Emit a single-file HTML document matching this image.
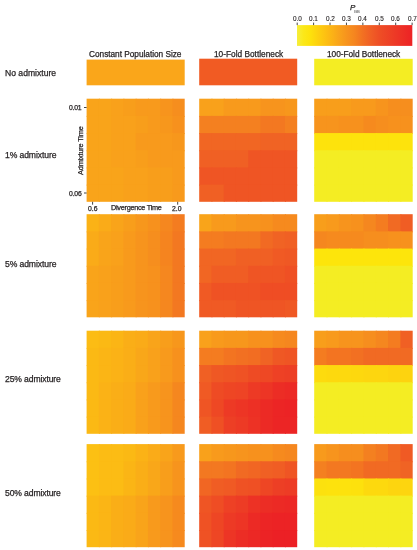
<!DOCTYPE html>
<html><head><meta charset="utf-8"><style>
html,body{margin:0;padding:0;background:#fff;}
body{width:417px;height:550px;position:relative;overflow:hidden;font-family:"Liberation Sans",sans-serif;color:#231f20;}
.t{position:absolute;white-space:nowrap;line-height:1;-webkit-text-stroke:0.25px #231f20;will-change:transform;}
svg{position:absolute;left:0;top:0;}
.rot{position:absolute;white-space:nowrap;line-height:1;-webkit-text-stroke:0.25px #231f20;will-change:transform;transform-origin:0 0;transform:rotate(-90deg);}
</style></head><body>
<svg width="417" height="550" viewBox="0 0 417 550"><defs><linearGradient id="cb" x1="0" x2="1" y1="0" y2="0"><stop offset="0.0000" stop-color="#f6ee3c"/><stop offset="0.0571" stop-color="#fbe819"/><stop offset="0.1143" stop-color="#fde20c"/><stop offset="0.1714" stop-color="#fdd30e"/><stop offset="0.2286" stop-color="#fdc511"/><stop offset="0.2857" stop-color="#fcb714"/><stop offset="0.3571" stop-color="#f9a51a"/><stop offset="0.4286" stop-color="#f7941d"/><stop offset="0.5000" stop-color="#f5851f"/><stop offset="0.5714" stop-color="#f27022"/><stop offset="0.6429" stop-color="#f05e25"/><stop offset="0.7143" stop-color="#ee4e25"/><stop offset="0.8571" stop-color="#ed3826"/><stop offset="1.0000" stop-color="#ed2225"/></linearGradient></defs><rect x="86.6" y="59.6" width="98.1" height="25.70" fill="#faa61a"/><rect x="86.60" y="98.70" width="13.26" height="18.18" fill="#f9a41a"/><rect x="98.86" y="98.70" width="13.26" height="18.18" fill="#f9a41a"/><rect x="111.12" y="98.70" width="13.26" height="18.18" fill="#f9a11b"/><rect x="123.39" y="98.70" width="13.26" height="18.18" fill="#f89e1b"/><rect x="135.65" y="98.70" width="13.26" height="18.18" fill="#f89a1c"/><rect x="147.91" y="98.70" width="13.26" height="18.18" fill="#f89a1c"/><rect x="160.17" y="98.70" width="13.26" height="18.18" fill="#f7941d"/><rect x="172.44" y="98.70" width="12.26" height="18.18" fill="#f68e1e"/><rect x="86.60" y="115.88" width="13.26" height="18.18" fill="#f9a41a"/><rect x="98.86" y="115.88" width="13.26" height="18.18" fill="#f9a41a"/><rect x="111.12" y="115.88" width="13.26" height="18.18" fill="#f9a11b"/><rect x="123.39" y="115.88" width="13.26" height="18.18" fill="#f9a11b"/><rect x="135.65" y="115.88" width="13.26" height="18.18" fill="#f89e1b"/><rect x="147.91" y="115.88" width="13.26" height="18.18" fill="#f89a1c"/><rect x="160.17" y="115.88" width="13.26" height="18.18" fill="#f7971c"/><rect x="172.44" y="115.88" width="12.26" height="18.18" fill="#f7911d"/><rect x="86.60" y="133.07" width="13.26" height="18.18" fill="#f9a41a"/><rect x="98.86" y="133.07" width="13.26" height="18.18" fill="#f9a41a"/><rect x="111.12" y="133.07" width="13.26" height="18.18" fill="#f9a11b"/><rect x="123.39" y="133.07" width="13.26" height="18.18" fill="#f9a11b"/><rect x="135.65" y="133.07" width="13.26" height="18.18" fill="#f89a1c"/><rect x="147.91" y="133.07" width="13.26" height="18.18" fill="#f89a1c"/><rect x="160.17" y="133.07" width="13.26" height="18.18" fill="#f89a1c"/><rect x="172.44" y="133.07" width="12.26" height="18.18" fill="#f7971c"/><rect x="86.60" y="150.25" width="13.26" height="18.18" fill="#f9a41a"/><rect x="98.86" y="150.25" width="13.26" height="18.18" fill="#f9a41a"/><rect x="111.12" y="150.25" width="13.26" height="18.18" fill="#f9a11b"/><rect x="123.39" y="150.25" width="13.26" height="18.18" fill="#f9a11b"/><rect x="135.65" y="150.25" width="13.26" height="18.18" fill="#f89e1b"/><rect x="147.91" y="150.25" width="13.26" height="18.18" fill="#f89a1c"/><rect x="160.17" y="150.25" width="13.26" height="18.18" fill="#f89a1c"/><rect x="172.44" y="150.25" width="12.26" height="18.18" fill="#f89a1c"/><rect x="86.60" y="167.43" width="13.26" height="18.18" fill="#f9a41a"/><rect x="98.86" y="167.43" width="13.26" height="18.18" fill="#f9a41a"/><rect x="111.12" y="167.43" width="13.26" height="18.18" fill="#f9a41a"/><rect x="123.39" y="167.43" width="13.26" height="18.18" fill="#f9a11b"/><rect x="135.65" y="167.43" width="13.26" height="18.18" fill="#f9a11b"/><rect x="147.91" y="167.43" width="13.26" height="18.18" fill="#f89e1b"/><rect x="160.17" y="167.43" width="13.26" height="18.18" fill="#f89e1b"/><rect x="172.44" y="167.43" width="12.26" height="18.18" fill="#f89a1c"/><rect x="86.60" y="184.62" width="13.26" height="17.18" fill="#f9a41a"/><rect x="98.86" y="184.62" width="13.26" height="17.18" fill="#f9a41a"/><rect x="111.12" y="184.62" width="13.26" height="17.18" fill="#f9a41a"/><rect x="123.39" y="184.62" width="13.26" height="17.18" fill="#f9a11b"/><rect x="135.65" y="184.62" width="13.26" height="17.18" fill="#f9a11b"/><rect x="147.91" y="184.62" width="13.26" height="17.18" fill="#f89e1b"/><rect x="160.17" y="184.62" width="13.26" height="17.18" fill="#f89e1b"/><rect x="172.44" y="184.62" width="12.26" height="17.18" fill="#f89a1c"/><rect x="86.60" y="214.20" width="13.26" height="18.18" fill="#fbb216"/><rect x="98.86" y="214.20" width="13.26" height="18.18" fill="#faab18"/><rect x="111.12" y="214.20" width="13.26" height="18.18" fill="#f9a41a"/><rect x="123.39" y="214.20" width="13.26" height="18.18" fill="#f89e1b"/><rect x="135.65" y="214.20" width="13.26" height="18.18" fill="#f7971c"/><rect x="147.91" y="214.20" width="13.26" height="18.18" fill="#f7911d"/><rect x="160.17" y="214.20" width="13.26" height="18.18" fill="#f5871f"/><rect x="172.44" y="214.20" width="12.26" height="18.18" fill="#f47c20"/><rect x="86.60" y="231.38" width="13.26" height="18.18" fill="#faab18"/><rect x="98.86" y="231.38" width="13.26" height="18.18" fill="#f9a41a"/><rect x="111.12" y="231.38" width="13.26" height="18.18" fill="#f9a11b"/><rect x="123.39" y="231.38" width="13.26" height="18.18" fill="#f89a1c"/><rect x="135.65" y="231.38" width="13.26" height="18.18" fill="#f7941d"/><rect x="147.91" y="231.38" width="13.26" height="18.18" fill="#f68e1e"/><rect x="160.17" y="231.38" width="13.26" height="18.18" fill="#f5841f"/><rect x="172.44" y="231.38" width="12.26" height="18.18" fill="#f37821"/><rect x="86.60" y="248.57" width="13.26" height="18.18" fill="#faab18"/><rect x="98.86" y="248.57" width="13.26" height="18.18" fill="#f9a41a"/><rect x="111.12" y="248.57" width="13.26" height="18.18" fill="#f9a11b"/><rect x="123.39" y="248.57" width="13.26" height="18.18" fill="#f89a1c"/><rect x="135.65" y="248.57" width="13.26" height="18.18" fill="#f7941d"/><rect x="147.91" y="248.57" width="13.26" height="18.18" fill="#f68e1e"/><rect x="160.17" y="248.57" width="13.26" height="18.18" fill="#f5841f"/><rect x="172.44" y="248.57" width="12.26" height="18.18" fill="#f37821"/><rect x="86.60" y="265.75" width="13.26" height="18.18" fill="#f9a41a"/><rect x="98.86" y="265.75" width="13.26" height="18.18" fill="#f9a11b"/><rect x="111.12" y="265.75" width="13.26" height="18.18" fill="#f89e1b"/><rect x="123.39" y="265.75" width="13.26" height="18.18" fill="#f89a1c"/><rect x="135.65" y="265.75" width="13.26" height="18.18" fill="#f7941d"/><rect x="147.91" y="265.75" width="13.26" height="18.18" fill="#f7911d"/><rect x="160.17" y="265.75" width="13.26" height="18.18" fill="#f5871f"/><rect x="172.44" y="265.75" width="12.26" height="18.18" fill="#f37821"/><rect x="86.60" y="282.93" width="13.26" height="18.18" fill="#f9a41a"/><rect x="98.86" y="282.93" width="13.26" height="18.18" fill="#f9a11b"/><rect x="111.12" y="282.93" width="13.26" height="18.18" fill="#f89e1b"/><rect x="123.39" y="282.93" width="13.26" height="18.18" fill="#f89a1c"/><rect x="135.65" y="282.93" width="13.26" height="18.18" fill="#f7941d"/><rect x="147.91" y="282.93" width="13.26" height="18.18" fill="#f7911d"/><rect x="160.17" y="282.93" width="13.26" height="18.18" fill="#f5871f"/><rect x="172.44" y="282.93" width="12.26" height="18.18" fill="#f37821"/><rect x="86.60" y="300.12" width="13.26" height="17.18" fill="#f9a41a"/><rect x="98.86" y="300.12" width="13.26" height="17.18" fill="#f9a11b"/><rect x="111.12" y="300.12" width="13.26" height="17.18" fill="#f89e1b"/><rect x="123.39" y="300.12" width="13.26" height="17.18" fill="#f89a1c"/><rect x="135.65" y="300.12" width="13.26" height="17.18" fill="#f7941d"/><rect x="147.91" y="300.12" width="13.26" height="17.18" fill="#f7911d"/><rect x="160.17" y="300.12" width="13.26" height="17.18" fill="#f5871f"/><rect x="172.44" y="300.12" width="12.26" height="17.18" fill="#f37821"/><rect x="86.60" y="330.70" width="13.26" height="18.18" fill="#fcbc14"/><rect x="98.86" y="330.70" width="13.26" height="18.18" fill="#fbb914"/><rect x="111.12" y="330.70" width="13.26" height="18.18" fill="#fbb515"/><rect x="123.39" y="330.70" width="13.26" height="18.18" fill="#faae17"/><rect x="135.65" y="330.70" width="13.26" height="18.18" fill="#faab18"/><rect x="147.91" y="330.70" width="13.26" height="18.18" fill="#f9a41a"/><rect x="160.17" y="330.70" width="13.26" height="18.18" fill="#f89e1b"/><rect x="172.44" y="330.70" width="12.26" height="18.18" fill="#f7971c"/><rect x="86.60" y="347.88" width="13.26" height="18.18" fill="#fbb914"/><rect x="98.86" y="347.88" width="13.26" height="18.18" fill="#fbb515"/><rect x="111.12" y="347.88" width="13.26" height="18.18" fill="#fbb216"/><rect x="123.39" y="347.88" width="13.26" height="18.18" fill="#faae17"/><rect x="135.65" y="347.88" width="13.26" height="18.18" fill="#f9a719"/><rect x="147.91" y="347.88" width="13.26" height="18.18" fill="#f9a11b"/><rect x="160.17" y="347.88" width="13.26" height="18.18" fill="#f89a1c"/><rect x="172.44" y="347.88" width="12.26" height="18.18" fill="#f7911d"/><rect x="86.60" y="365.07" width="13.26" height="18.18" fill="#fbb914"/><rect x="98.86" y="365.07" width="13.26" height="18.18" fill="#fbb515"/><rect x="111.12" y="365.07" width="13.26" height="18.18" fill="#fbb216"/><rect x="123.39" y="365.07" width="13.26" height="18.18" fill="#faae17"/><rect x="135.65" y="365.07" width="13.26" height="18.18" fill="#f9a719"/><rect x="147.91" y="365.07" width="13.26" height="18.18" fill="#f9a11b"/><rect x="160.17" y="365.07" width="13.26" height="18.18" fill="#f89a1c"/><rect x="172.44" y="365.07" width="12.26" height="18.18" fill="#f7911d"/><rect x="86.60" y="382.25" width="13.26" height="18.18" fill="#fbb914"/><rect x="98.86" y="382.25" width="13.26" height="18.18" fill="#fbb216"/><rect x="111.12" y="382.25" width="13.26" height="18.18" fill="#faae17"/><rect x="123.39" y="382.25" width="13.26" height="18.18" fill="#faab18"/><rect x="135.65" y="382.25" width="13.26" height="18.18" fill="#f9a11b"/><rect x="147.91" y="382.25" width="13.26" height="18.18" fill="#f89a1c"/><rect x="160.17" y="382.25" width="13.26" height="18.18" fill="#f7941d"/><rect x="172.44" y="382.25" width="12.26" height="18.18" fill="#f5871f"/><rect x="86.60" y="399.43" width="13.26" height="18.18" fill="#fbb914"/><rect x="98.86" y="399.43" width="13.26" height="18.18" fill="#fbb216"/><rect x="111.12" y="399.43" width="13.26" height="18.18" fill="#faae17"/><rect x="123.39" y="399.43" width="13.26" height="18.18" fill="#faab18"/><rect x="135.65" y="399.43" width="13.26" height="18.18" fill="#f9a11b"/><rect x="147.91" y="399.43" width="13.26" height="18.18" fill="#f89a1c"/><rect x="160.17" y="399.43" width="13.26" height="18.18" fill="#f7941d"/><rect x="172.44" y="399.43" width="12.26" height="18.18" fill="#f5871f"/><rect x="86.60" y="416.62" width="13.26" height="17.18" fill="#fbb914"/><rect x="98.86" y="416.62" width="13.26" height="17.18" fill="#fbb216"/><rect x="111.12" y="416.62" width="13.26" height="17.18" fill="#faae17"/><rect x="123.39" y="416.62" width="13.26" height="17.18" fill="#faab18"/><rect x="135.65" y="416.62" width="13.26" height="17.18" fill="#f9a11b"/><rect x="147.91" y="416.62" width="13.26" height="17.18" fill="#f89a1c"/><rect x="160.17" y="416.62" width="13.26" height="17.18" fill="#f7941d"/><rect x="172.44" y="416.62" width="12.26" height="17.18" fill="#f5871f"/><rect x="86.60" y="444.10" width="13.26" height="18.18" fill="#fcc013"/><rect x="98.86" y="444.10" width="13.26" height="18.18" fill="#fcbc14"/><rect x="111.12" y="444.10" width="13.26" height="18.18" fill="#fcbc14"/><rect x="123.39" y="444.10" width="13.26" height="18.18" fill="#fbb914"/><rect x="135.65" y="444.10" width="13.26" height="18.18" fill="#fbb216"/><rect x="147.91" y="444.10" width="13.26" height="18.18" fill="#faab18"/><rect x="160.17" y="444.10" width="13.26" height="18.18" fill="#f9a41a"/><rect x="172.44" y="444.10" width="12.26" height="18.18" fill="#f89a1c"/><rect x="86.60" y="461.28" width="13.26" height="18.18" fill="#fcc013"/><rect x="98.86" y="461.28" width="13.26" height="18.18" fill="#fcbc14"/><rect x="111.12" y="461.28" width="13.26" height="18.18" fill="#fcbc14"/><rect x="123.39" y="461.28" width="13.26" height="18.18" fill="#fbb515"/><rect x="135.65" y="461.28" width="13.26" height="18.18" fill="#faae17"/><rect x="147.91" y="461.28" width="13.26" height="18.18" fill="#f9a719"/><rect x="160.17" y="461.28" width="13.26" height="18.18" fill="#f89e1b"/><rect x="172.44" y="461.28" width="12.26" height="18.18" fill="#f7941d"/><rect x="86.60" y="478.47" width="13.26" height="18.18" fill="#fcc013"/><rect x="98.86" y="478.47" width="13.26" height="18.18" fill="#fcbc14"/><rect x="111.12" y="478.47" width="13.26" height="18.18" fill="#fcbc14"/><rect x="123.39" y="478.47" width="13.26" height="18.18" fill="#fbb515"/><rect x="135.65" y="478.47" width="13.26" height="18.18" fill="#faae17"/><rect x="147.91" y="478.47" width="13.26" height="18.18" fill="#f9a719"/><rect x="160.17" y="478.47" width="13.26" height="18.18" fill="#f89e1b"/><rect x="172.44" y="478.47" width="12.26" height="18.18" fill="#f7941d"/><rect x="86.60" y="495.65" width="13.26" height="18.18" fill="#fbb914"/><rect x="98.86" y="495.65" width="13.26" height="18.18" fill="#fbb515"/><rect x="111.12" y="495.65" width="13.26" height="18.18" fill="#faae17"/><rect x="123.39" y="495.65" width="13.26" height="18.18" fill="#faab18"/><rect x="135.65" y="495.65" width="13.26" height="18.18" fill="#f9a41a"/><rect x="147.91" y="495.65" width="13.26" height="18.18" fill="#f89a1c"/><rect x="160.17" y="495.65" width="13.26" height="18.18" fill="#f7941d"/><rect x="172.44" y="495.65" width="12.26" height="18.18" fill="#f68a1e"/><rect x="86.60" y="512.83" width="13.26" height="18.18" fill="#fbb914"/><rect x="98.86" y="512.83" width="13.26" height="18.18" fill="#fbb515"/><rect x="111.12" y="512.83" width="13.26" height="18.18" fill="#faae17"/><rect x="123.39" y="512.83" width="13.26" height="18.18" fill="#faab18"/><rect x="135.65" y="512.83" width="13.26" height="18.18" fill="#f9a41a"/><rect x="147.91" y="512.83" width="13.26" height="18.18" fill="#f89a1c"/><rect x="160.17" y="512.83" width="13.26" height="18.18" fill="#f7941d"/><rect x="172.44" y="512.83" width="12.26" height="18.18" fill="#f68a1e"/><rect x="86.60" y="530.02" width="13.26" height="17.18" fill="#fbb914"/><rect x="98.86" y="530.02" width="13.26" height="17.18" fill="#fbb515"/><rect x="111.12" y="530.02" width="13.26" height="17.18" fill="#faae17"/><rect x="123.39" y="530.02" width="13.26" height="17.18" fill="#faab18"/><rect x="135.65" y="530.02" width="13.26" height="17.18" fill="#f9a41a"/><rect x="147.91" y="530.02" width="13.26" height="17.18" fill="#f89a1c"/><rect x="160.17" y="530.02" width="13.26" height="17.18" fill="#f7941d"/><rect x="172.44" y="530.02" width="12.26" height="17.18" fill="#f68a1e"/><rect x="199.2" y="58.7" width="98.0" height="26.60" fill="#f15b23"/><rect x="199.20" y="98.70" width="13.25" height="18.18" fill="#f9a11b"/><rect x="211.45" y="98.70" width="13.25" height="18.18" fill="#f9a11b"/><rect x="223.70" y="98.70" width="13.25" height="18.18" fill="#f89a1c"/><rect x="235.95" y="98.70" width="13.25" height="18.18" fill="#f89a1c"/><rect x="248.20" y="98.70" width="13.25" height="18.18" fill="#f89a1c"/><rect x="260.45" y="98.70" width="13.25" height="18.18" fill="#f7941d"/><rect x="272.70" y="98.70" width="13.25" height="18.18" fill="#f7941d"/><rect x="284.95" y="98.70" width="12.25" height="18.18" fill="#f7971c"/><rect x="199.20" y="115.88" width="13.25" height="18.18" fill="#f48020"/><rect x="211.45" y="115.88" width="13.25" height="18.18" fill="#f48020"/><rect x="223.70" y="115.88" width="13.25" height="18.18" fill="#f48020"/><rect x="235.95" y="115.88" width="13.25" height="18.18" fill="#f48020"/><rect x="248.20" y="115.88" width="13.25" height="18.18" fill="#f48020"/><rect x="260.45" y="115.88" width="13.25" height="18.18" fill="#f37821"/><rect x="272.70" y="115.88" width="13.25" height="18.18" fill="#f37821"/><rect x="284.95" y="115.88" width="12.25" height="18.18" fill="#f48020"/><rect x="199.20" y="133.07" width="13.25" height="18.18" fill="#f16623"/><rect x="211.45" y="133.07" width="13.25" height="18.18" fill="#f16623"/><rect x="223.70" y="133.07" width="13.25" height="18.18" fill="#f16623"/><rect x="235.95" y="133.07" width="13.25" height="18.18" fill="#f16623"/><rect x="248.20" y="133.07" width="13.25" height="18.18" fill="#f16623"/><rect x="260.45" y="133.07" width="13.25" height="18.18" fill="#f06324"/><rect x="272.70" y="133.07" width="13.25" height="18.18" fill="#f06324"/><rect x="284.95" y="133.07" width="12.25" height="18.18" fill="#f06324"/><rect x="199.20" y="150.25" width="13.25" height="18.18" fill="#f06024"/><rect x="211.45" y="150.25" width="13.25" height="18.18" fill="#f06024"/><rect x="223.70" y="150.25" width="13.25" height="18.18" fill="#f06024"/><rect x="235.95" y="150.25" width="13.25" height="18.18" fill="#f06024"/><rect x="248.20" y="150.25" width="13.25" height="18.18" fill="#ef5524"/><rect x="260.45" y="150.25" width="13.25" height="18.18" fill="#ef5524"/><rect x="272.70" y="150.25" width="13.25" height="18.18" fill="#ef5524"/><rect x="284.95" y="150.25" width="12.25" height="18.18" fill="#ef5524"/><rect x="199.20" y="167.43" width="13.25" height="18.18" fill="#ef5524"/><rect x="211.45" y="167.43" width="13.25" height="18.18" fill="#ef5524"/><rect x="223.70" y="167.43" width="13.25" height="18.18" fill="#ef5524"/><rect x="235.95" y="167.43" width="13.25" height="18.18" fill="#ef5524"/><rect x="248.20" y="167.43" width="13.25" height="18.18" fill="#ef5524"/><rect x="260.45" y="167.43" width="13.25" height="18.18" fill="#ef5524"/><rect x="272.70" y="167.43" width="13.25" height="18.18" fill="#ef5524"/><rect x="284.95" y="167.43" width="12.25" height="18.18" fill="#ef5524"/><rect x="199.20" y="184.62" width="13.25" height="17.18" fill="#f06024"/><rect x="211.45" y="184.62" width="13.25" height="17.18" fill="#f06024"/><rect x="223.70" y="184.62" width="13.25" height="17.18" fill="#ef5524"/><rect x="235.95" y="184.62" width="13.25" height="17.18" fill="#ef5524"/><rect x="248.20" y="184.62" width="13.25" height="17.18" fill="#ef5524"/><rect x="260.45" y="184.62" width="13.25" height="17.18" fill="#ef5524"/><rect x="272.70" y="184.62" width="13.25" height="17.18" fill="#ef5524"/><rect x="284.95" y="184.62" width="12.25" height="17.18" fill="#ef5524"/><rect x="199.20" y="214.20" width="13.25" height="18.18" fill="#f9a41a"/><rect x="211.45" y="214.20" width="13.25" height="18.18" fill="#f89a1c"/><rect x="223.70" y="214.20" width="13.25" height="18.18" fill="#f89a1c"/><rect x="235.95" y="214.20" width="13.25" height="18.18" fill="#f7941d"/><rect x="248.20" y="214.20" width="13.25" height="18.18" fill="#f7941d"/><rect x="260.45" y="214.20" width="13.25" height="18.18" fill="#f7911d"/><rect x="272.70" y="214.20" width="13.25" height="18.18" fill="#f68a1e"/><rect x="284.95" y="214.20" width="12.25" height="18.18" fill="#f68a1e"/><rect x="199.20" y="231.38" width="13.25" height="18.18" fill="#f47c20"/><rect x="211.45" y="231.38" width="13.25" height="18.18" fill="#f47c20"/><rect x="223.70" y="231.38" width="13.25" height="18.18" fill="#f37821"/><rect x="235.95" y="231.38" width="13.25" height="18.18" fill="#f37821"/><rect x="248.20" y="231.38" width="13.25" height="18.18" fill="#f37821"/><rect x="260.45" y="231.38" width="13.25" height="18.18" fill="#f16a23"/><rect x="272.70" y="231.38" width="13.25" height="18.18" fill="#f06324"/><rect x="284.95" y="231.38" width="12.25" height="18.18" fill="#f06024"/><rect x="199.20" y="248.57" width="13.25" height="18.18" fill="#f16623"/><rect x="211.45" y="248.57" width="13.25" height="18.18" fill="#f16623"/><rect x="223.70" y="248.57" width="13.25" height="18.18" fill="#f16623"/><rect x="235.95" y="248.57" width="13.25" height="18.18" fill="#f06024"/><rect x="248.20" y="248.57" width="13.25" height="18.18" fill="#f06024"/><rect x="260.45" y="248.57" width="13.25" height="18.18" fill="#f06024"/><rect x="272.70" y="248.57" width="13.25" height="18.18" fill="#f05a24"/><rect x="284.95" y="248.57" width="12.25" height="18.18" fill="#ef5824"/><rect x="199.20" y="265.75" width="13.25" height="18.18" fill="#f16623"/><rect x="211.45" y="265.75" width="13.25" height="18.18" fill="#f05d24"/><rect x="223.70" y="265.75" width="13.25" height="18.18" fill="#f05d24"/><rect x="235.95" y="265.75" width="13.25" height="18.18" fill="#f05d24"/><rect x="248.20" y="265.75" width="13.25" height="18.18" fill="#ef5524"/><rect x="260.45" y="265.75" width="13.25" height="18.18" fill="#ef5524"/><rect x="272.70" y="265.75" width="13.25" height="18.18" fill="#ef5524"/><rect x="284.95" y="265.75" width="12.25" height="18.18" fill="#ef5024"/><rect x="199.20" y="282.93" width="13.25" height="18.18" fill="#f05a24"/><rect x="211.45" y="282.93" width="13.25" height="18.18" fill="#ef5224"/><rect x="223.70" y="282.93" width="13.25" height="18.18" fill="#ef5224"/><rect x="235.95" y="282.93" width="13.25" height="18.18" fill="#ef5224"/><rect x="248.20" y="282.93" width="13.25" height="18.18" fill="#ef5224"/><rect x="260.45" y="282.93" width="13.25" height="18.18" fill="#ef4d24"/><rect x="272.70" y="282.93" width="13.25" height="18.18" fill="#ef4d24"/><rect x="284.95" y="282.93" width="12.25" height="18.18" fill="#ef4d24"/><rect x="199.20" y="300.12" width="13.25" height="17.18" fill="#f05a24"/><rect x="211.45" y="300.12" width="13.25" height="17.18" fill="#f05a24"/><rect x="223.70" y="300.12" width="13.25" height="17.18" fill="#f05a24"/><rect x="235.95" y="300.12" width="13.25" height="17.18" fill="#ef5524"/><rect x="248.20" y="300.12" width="13.25" height="17.18" fill="#ef5524"/><rect x="260.45" y="300.12" width="13.25" height="17.18" fill="#ef5524"/><rect x="272.70" y="300.12" width="13.25" height="17.18" fill="#ef5524"/><rect x="284.95" y="300.12" width="12.25" height="17.18" fill="#ef5824"/><rect x="199.20" y="330.70" width="13.25" height="18.18" fill="#f9a11b"/><rect x="211.45" y="330.70" width="13.25" height="18.18" fill="#f89a1c"/><rect x="223.70" y="330.70" width="13.25" height="18.18" fill="#f7971c"/><rect x="235.95" y="330.70" width="13.25" height="18.18" fill="#f7971c"/><rect x="248.20" y="330.70" width="13.25" height="18.18" fill="#f7911d"/><rect x="260.45" y="330.70" width="13.25" height="18.18" fill="#f7911d"/><rect x="272.70" y="330.70" width="13.25" height="18.18" fill="#f68a1e"/><rect x="284.95" y="330.70" width="12.25" height="18.18" fill="#f5871f"/><rect x="199.20" y="347.88" width="13.25" height="18.18" fill="#f47c20"/><rect x="211.45" y="347.88" width="13.25" height="18.18" fill="#f47c20"/><rect x="223.70" y="347.88" width="13.25" height="18.18" fill="#f37421"/><rect x="235.95" y="347.88" width="13.25" height="18.18" fill="#f27022"/><rect x="248.20" y="347.88" width="13.25" height="18.18" fill="#f26d22"/><rect x="260.45" y="347.88" width="13.25" height="18.18" fill="#f06324"/><rect x="272.70" y="347.88" width="13.25" height="18.18" fill="#ef5824"/><rect x="284.95" y="347.88" width="12.25" height="18.18" fill="#ef5524"/><rect x="199.20" y="365.07" width="13.25" height="18.18" fill="#f06024"/><rect x="211.45" y="365.07" width="13.25" height="18.18" fill="#ef5824"/><rect x="223.70" y="365.07" width="13.25" height="18.18" fill="#ef5524"/><rect x="235.95" y="365.07" width="13.25" height="18.18" fill="#ef5224"/><rect x="248.20" y="365.07" width="13.25" height="18.18" fill="#ee4b24"/><rect x="260.45" y="365.07" width="13.25" height="18.18" fill="#ee4824"/><rect x="272.70" y="365.07" width="13.25" height="18.18" fill="#ee4125"/><rect x="284.95" y="365.07" width="12.25" height="18.18" fill="#ed3f25"/><rect x="199.20" y="382.25" width="13.25" height="18.18" fill="#f05a24"/><rect x="211.45" y="382.25" width="13.25" height="18.18" fill="#ee4b24"/><rect x="223.70" y="382.25" width="13.25" height="18.18" fill="#ee4624"/><rect x="235.95" y="382.25" width="13.25" height="18.18" fill="#ee4425"/><rect x="248.20" y="382.25" width="13.25" height="18.18" fill="#ed3a25"/><rect x="260.45" y="382.25" width="13.25" height="18.18" fill="#ed3525"/><rect x="272.70" y="382.25" width="13.25" height="18.18" fill="#ec2d25"/><rect x="284.95" y="382.25" width="12.25" height="18.18" fill="#ec2a25"/><rect x="199.20" y="399.43" width="13.25" height="18.18" fill="#ef5524"/><rect x="211.45" y="399.43" width="13.25" height="18.18" fill="#ee4824"/><rect x="223.70" y="399.43" width="13.25" height="18.18" fill="#ed3a25"/><rect x="235.95" y="399.43" width="13.25" height="18.18" fill="#ed3525"/><rect x="248.20" y="399.43" width="13.25" height="18.18" fill="#ed3025"/><rect x="260.45" y="399.43" width="13.25" height="18.18" fill="#ec2a25"/><rect x="272.70" y="399.43" width="13.25" height="18.18" fill="#ec2525"/><rect x="284.95" y="399.43" width="12.25" height="18.18" fill="#ec2325"/><rect x="199.20" y="416.62" width="13.25" height="17.18" fill="#f05d24"/><rect x="211.45" y="416.62" width="13.25" height="17.18" fill="#ef5024"/><rect x="223.70" y="416.62" width="13.25" height="17.18" fill="#ed3f25"/><rect x="235.95" y="416.62" width="13.25" height="17.18" fill="#ed3a25"/><rect x="248.20" y="416.62" width="13.25" height="17.18" fill="#ed3225"/><rect x="260.45" y="416.62" width="13.25" height="17.18" fill="#ec2a25"/><rect x="272.70" y="416.62" width="13.25" height="17.18" fill="#ec2525"/><rect x="284.95" y="416.62" width="12.25" height="17.18" fill="#ec2525"/><rect x="199.20" y="444.10" width="13.25" height="18.18" fill="#f9a11b"/><rect x="211.45" y="444.10" width="13.25" height="18.18" fill="#f89a1c"/><rect x="223.70" y="444.10" width="13.25" height="18.18" fill="#f7971c"/><rect x="235.95" y="444.10" width="13.25" height="18.18" fill="#f7941d"/><rect x="248.20" y="444.10" width="13.25" height="18.18" fill="#f7911d"/><rect x="260.45" y="444.10" width="13.25" height="18.18" fill="#f7911d"/><rect x="272.70" y="444.10" width="13.25" height="18.18" fill="#f68a1e"/><rect x="284.95" y="444.10" width="12.25" height="18.18" fill="#f5871f"/><rect x="199.20" y="461.28" width="13.25" height="18.18" fill="#f37821"/><rect x="211.45" y="461.28" width="13.25" height="18.18" fill="#f37821"/><rect x="223.70" y="461.28" width="13.25" height="18.18" fill="#f37421"/><rect x="235.95" y="461.28" width="13.25" height="18.18" fill="#f16a23"/><rect x="248.20" y="461.28" width="13.25" height="18.18" fill="#f16623"/><rect x="260.45" y="461.28" width="13.25" height="18.18" fill="#f06024"/><rect x="272.70" y="461.28" width="13.25" height="18.18" fill="#f05d24"/><rect x="284.95" y="461.28" width="12.25" height="18.18" fill="#ef5524"/><rect x="199.20" y="478.47" width="13.25" height="18.18" fill="#f16623"/><rect x="211.45" y="478.47" width="13.25" height="18.18" fill="#f05d24"/><rect x="223.70" y="478.47" width="13.25" height="18.18" fill="#f05a24"/><rect x="235.95" y="478.47" width="13.25" height="18.18" fill="#ef5224"/><rect x="248.20" y="478.47" width="13.25" height="18.18" fill="#ef5024"/><rect x="260.45" y="478.47" width="13.25" height="18.18" fill="#ee4624"/><rect x="272.70" y="478.47" width="13.25" height="18.18" fill="#ed3f25"/><rect x="284.95" y="478.47" width="12.25" height="18.18" fill="#ed3c25"/><rect x="199.20" y="495.65" width="13.25" height="18.18" fill="#ef5524"/><rect x="211.45" y="495.65" width="13.25" height="18.18" fill="#ef4d24"/><rect x="223.70" y="495.65" width="13.25" height="18.18" fill="#ee4125"/><rect x="235.95" y="495.65" width="13.25" height="18.18" fill="#ed3c25"/><rect x="248.20" y="495.65" width="13.25" height="18.18" fill="#ed3225"/><rect x="260.45" y="495.65" width="13.25" height="18.18" fill="#ec2d25"/><rect x="272.70" y="495.65" width="13.25" height="18.18" fill="#ec2a25"/><rect x="284.95" y="495.65" width="12.25" height="18.18" fill="#ec2825"/><rect x="199.20" y="512.83" width="13.25" height="18.18" fill="#ef5224"/><rect x="211.45" y="512.83" width="13.25" height="18.18" fill="#ee4624"/><rect x="223.70" y="512.83" width="13.25" height="18.18" fill="#ed3a25"/><rect x="235.95" y="512.83" width="13.25" height="18.18" fill="#ed3525"/><rect x="248.20" y="512.83" width="13.25" height="18.18" fill="#ec2a25"/><rect x="260.45" y="512.83" width="13.25" height="18.18" fill="#ec2525"/><rect x="272.70" y="512.83" width="13.25" height="18.18" fill="#ec2325"/><rect x="284.95" y="512.83" width="12.25" height="18.18" fill="#ec2325"/><rect x="199.20" y="530.02" width="13.25" height="17.18" fill="#ef5224"/><rect x="211.45" y="530.02" width="13.25" height="17.18" fill="#ee4624"/><rect x="223.70" y="530.02" width="13.25" height="17.18" fill="#ed3525"/><rect x="235.95" y="530.02" width="13.25" height="17.18" fill="#ec2d25"/><rect x="248.20" y="530.02" width="13.25" height="17.18" fill="#ec2825"/><rect x="260.45" y="530.02" width="13.25" height="17.18" fill="#ec2325"/><rect x="272.70" y="530.02" width="13.25" height="17.18" fill="#ec2025"/><rect x="284.95" y="530.02" width="12.25" height="17.18" fill="#ec2025"/><rect x="314.2" y="58.8" width="98.5" height="26.50" fill="#f4ed23"/><rect x="314.20" y="98.70" width="13.31" height="18.18" fill="#f89e1b"/><rect x="326.51" y="98.70" width="13.31" height="18.18" fill="#f89e1b"/><rect x="338.82" y="98.70" width="13.31" height="18.18" fill="#f89e1b"/><rect x="351.14" y="98.70" width="13.31" height="18.18" fill="#f89a1c"/><rect x="363.45" y="98.70" width="13.31" height="18.18" fill="#f89a1c"/><rect x="375.76" y="98.70" width="13.31" height="18.18" fill="#f7941d"/><rect x="388.07" y="98.70" width="13.31" height="18.18" fill="#f68e1e"/><rect x="400.39" y="98.70" width="12.31" height="18.18" fill="#f68e1e"/><rect x="314.20" y="115.88" width="13.31" height="18.18" fill="#f7941d"/><rect x="326.51" y="115.88" width="13.31" height="18.18" fill="#f7941d"/><rect x="338.82" y="115.88" width="13.31" height="18.18" fill="#f7911d"/><rect x="351.14" y="115.88" width="13.31" height="18.18" fill="#f7911d"/><rect x="363.45" y="115.88" width="13.31" height="18.18" fill="#f68a1e"/><rect x="375.76" y="115.88" width="13.31" height="18.18" fill="#f68e1e"/><rect x="388.07" y="115.88" width="13.31" height="18.18" fill="#f7911d"/><rect x="400.39" y="115.88" width="12.31" height="18.18" fill="#f7911d"/><rect x="314.20" y="133.07" width="13.31" height="18.18" fill="#fde30c"/><rect x="326.51" y="133.07" width="13.31" height="18.18" fill="#fde30c"/><rect x="338.82" y="133.07" width="13.31" height="18.18" fill="#fde30c"/><rect x="351.14" y="133.07" width="13.31" height="18.18" fill="#fde30c"/><rect x="363.45" y="133.07" width="13.31" height="18.18" fill="#fde30c"/><rect x="375.76" y="133.07" width="13.31" height="18.18" fill="#fde30c"/><rect x="388.07" y="133.07" width="13.31" height="18.18" fill="#fde30c"/><rect x="400.39" y="133.07" width="12.31" height="18.18" fill="#fde30c"/><rect x="314.20" y="150.25" width="13.31" height="18.18" fill="#f4ed23"/><rect x="326.51" y="150.25" width="13.31" height="18.18" fill="#f4ed23"/><rect x="338.82" y="150.25" width="13.31" height="18.18" fill="#f4ed23"/><rect x="351.14" y="150.25" width="13.31" height="18.18" fill="#f4ed23"/><rect x="363.45" y="150.25" width="13.31" height="18.18" fill="#f4ed23"/><rect x="375.76" y="150.25" width="13.31" height="18.18" fill="#f4ed23"/><rect x="388.07" y="150.25" width="13.31" height="18.18" fill="#f4ed23"/><rect x="400.39" y="150.25" width="12.31" height="18.18" fill="#f4ed23"/><rect x="314.20" y="167.43" width="13.31" height="18.18" fill="#f4ed23"/><rect x="326.51" y="167.43" width="13.31" height="18.18" fill="#f4ed23"/><rect x="338.82" y="167.43" width="13.31" height="18.18" fill="#f4ed23"/><rect x="351.14" y="167.43" width="13.31" height="18.18" fill="#f4ed23"/><rect x="363.45" y="167.43" width="13.31" height="18.18" fill="#f4ed23"/><rect x="375.76" y="167.43" width="13.31" height="18.18" fill="#f4ed23"/><rect x="388.07" y="167.43" width="13.31" height="18.18" fill="#f4ed23"/><rect x="400.39" y="167.43" width="12.31" height="18.18" fill="#f4ed23"/><rect x="314.20" y="184.62" width="13.31" height="17.18" fill="#f4ed23"/><rect x="326.51" y="184.62" width="13.31" height="17.18" fill="#f4ed23"/><rect x="338.82" y="184.62" width="13.31" height="17.18" fill="#f4ed23"/><rect x="351.14" y="184.62" width="13.31" height="17.18" fill="#f4ed23"/><rect x="363.45" y="184.62" width="13.31" height="17.18" fill="#f4ed23"/><rect x="375.76" y="184.62" width="13.31" height="17.18" fill="#f4ed23"/><rect x="388.07" y="184.62" width="13.31" height="17.18" fill="#f4ed23"/><rect x="400.39" y="184.62" width="12.31" height="17.18" fill="#f4ed23"/><rect x="314.20" y="214.20" width="13.31" height="18.18" fill="#f89e1b"/><rect x="326.51" y="214.20" width="13.31" height="18.18" fill="#f89a1c"/><rect x="338.82" y="214.20" width="13.31" height="18.18" fill="#f7941d"/><rect x="351.14" y="214.20" width="13.31" height="18.18" fill="#f7911d"/><rect x="363.45" y="214.20" width="13.31" height="18.18" fill="#f5871f"/><rect x="375.76" y="214.20" width="13.31" height="18.18" fill="#f47c20"/><rect x="388.07" y="214.20" width="13.31" height="18.18" fill="#f16a23"/><rect x="400.39" y="214.20" width="12.31" height="18.18" fill="#f05d24"/><rect x="314.20" y="231.38" width="13.31" height="18.18" fill="#f5871f"/><rect x="326.51" y="231.38" width="13.31" height="18.18" fill="#f68a1e"/><rect x="338.82" y="231.38" width="13.31" height="18.18" fill="#f68a1e"/><rect x="351.14" y="231.38" width="13.31" height="18.18" fill="#f68a1e"/><rect x="363.45" y="231.38" width="13.31" height="18.18" fill="#f68e1e"/><rect x="375.76" y="231.38" width="13.31" height="18.18" fill="#f68e1e"/><rect x="388.07" y="231.38" width="13.31" height="18.18" fill="#f7911d"/><rect x="400.39" y="231.38" width="12.31" height="18.18" fill="#f7911d"/><rect x="314.20" y="248.57" width="13.31" height="18.18" fill="#fde50b"/><rect x="326.51" y="248.57" width="13.31" height="18.18" fill="#fde50b"/><rect x="338.82" y="248.57" width="13.31" height="18.18" fill="#fde50b"/><rect x="351.14" y="248.57" width="13.31" height="18.18" fill="#fde50b"/><rect x="363.45" y="248.57" width="13.31" height="18.18" fill="#fde50b"/><rect x="375.76" y="248.57" width="13.31" height="18.18" fill="#fde50b"/><rect x="388.07" y="248.57" width="13.31" height="18.18" fill="#fde50b"/><rect x="400.39" y="248.57" width="12.31" height="18.18" fill="#fde50b"/><rect x="314.20" y="265.75" width="13.31" height="18.18" fill="#f4ed23"/><rect x="326.51" y="265.75" width="13.31" height="18.18" fill="#f4ed23"/><rect x="338.82" y="265.75" width="13.31" height="18.18" fill="#f4ed23"/><rect x="351.14" y="265.75" width="13.31" height="18.18" fill="#f4ed23"/><rect x="363.45" y="265.75" width="13.31" height="18.18" fill="#f4ed23"/><rect x="375.76" y="265.75" width="13.31" height="18.18" fill="#f4ed23"/><rect x="388.07" y="265.75" width="13.31" height="18.18" fill="#f4ed23"/><rect x="400.39" y="265.75" width="12.31" height="18.18" fill="#f4ed23"/><rect x="314.20" y="282.93" width="13.31" height="18.18" fill="#f4ed23"/><rect x="326.51" y="282.93" width="13.31" height="18.18" fill="#f4ed23"/><rect x="338.82" y="282.93" width="13.31" height="18.18" fill="#f4ed23"/><rect x="351.14" y="282.93" width="13.31" height="18.18" fill="#f4ed23"/><rect x="363.45" y="282.93" width="13.31" height="18.18" fill="#f4ed23"/><rect x="375.76" y="282.93" width="13.31" height="18.18" fill="#f4ed23"/><rect x="388.07" y="282.93" width="13.31" height="18.18" fill="#f4ed23"/><rect x="400.39" y="282.93" width="12.31" height="18.18" fill="#f4ed23"/><rect x="314.20" y="300.12" width="13.31" height="17.18" fill="#f4ed23"/><rect x="326.51" y="300.12" width="13.31" height="17.18" fill="#f4ed23"/><rect x="338.82" y="300.12" width="13.31" height="17.18" fill="#f4ed23"/><rect x="351.14" y="300.12" width="13.31" height="17.18" fill="#f4ed23"/><rect x="363.45" y="300.12" width="13.31" height="17.18" fill="#f4ed23"/><rect x="375.76" y="300.12" width="13.31" height="17.18" fill="#f4ed23"/><rect x="388.07" y="300.12" width="13.31" height="17.18" fill="#f4ed23"/><rect x="400.39" y="300.12" width="12.31" height="17.18" fill="#f4ed23"/><rect x="314.20" y="330.70" width="13.31" height="18.18" fill="#f89e1b"/><rect x="326.51" y="330.70" width="13.31" height="18.18" fill="#f89a1c"/><rect x="338.82" y="330.70" width="13.31" height="18.18" fill="#f7941d"/><rect x="351.14" y="330.70" width="13.31" height="18.18" fill="#f7941d"/><rect x="363.45" y="330.70" width="13.31" height="18.18" fill="#f68e1e"/><rect x="375.76" y="330.70" width="13.31" height="18.18" fill="#f5871f"/><rect x="388.07" y="330.70" width="13.31" height="18.18" fill="#f47c20"/><rect x="400.39" y="330.70" width="12.31" height="18.18" fill="#f06024"/><rect x="314.20" y="347.88" width="13.31" height="18.18" fill="#f47c20"/><rect x="326.51" y="347.88" width="13.31" height="18.18" fill="#f37421"/><rect x="338.82" y="347.88" width="13.31" height="18.18" fill="#f37421"/><rect x="351.14" y="347.88" width="13.31" height="18.18" fill="#f27022"/><rect x="363.45" y="347.88" width="13.31" height="18.18" fill="#f16a23"/><rect x="375.76" y="347.88" width="13.31" height="18.18" fill="#f16a23"/><rect x="388.07" y="347.88" width="13.31" height="18.18" fill="#f16a23"/><rect x="400.39" y="347.88" width="12.31" height="18.18" fill="#f16a23"/><rect x="314.20" y="365.07" width="13.31" height="18.18" fill="#fddb0e"/><rect x="326.51" y="365.07" width="13.31" height="18.18" fill="#fdd90e"/><rect x="338.82" y="365.07" width="13.31" height="18.18" fill="#fdd90e"/><rect x="351.14" y="365.07" width="13.31" height="18.18" fill="#fdd80e"/><rect x="363.45" y="365.07" width="13.31" height="18.18" fill="#fdd60f"/><rect x="375.76" y="365.07" width="13.31" height="18.18" fill="#fdd60f"/><rect x="388.07" y="365.07" width="13.31" height="18.18" fill="#fdd30f"/><rect x="400.39" y="365.07" width="12.31" height="18.18" fill="#fdd30f"/><rect x="314.20" y="382.25" width="13.31" height="18.18" fill="#f4ed23"/><rect x="326.51" y="382.25" width="13.31" height="18.18" fill="#f4ed23"/><rect x="338.82" y="382.25" width="13.31" height="18.18" fill="#f4ed23"/><rect x="351.14" y="382.25" width="13.31" height="18.18" fill="#f4ed23"/><rect x="363.45" y="382.25" width="13.31" height="18.18" fill="#f4ed23"/><rect x="375.76" y="382.25" width="13.31" height="18.18" fill="#f4ed23"/><rect x="388.07" y="382.25" width="13.31" height="18.18" fill="#f4ed23"/><rect x="400.39" y="382.25" width="12.31" height="18.18" fill="#f4ed23"/><rect x="314.20" y="399.43" width="13.31" height="18.18" fill="#f4ed23"/><rect x="326.51" y="399.43" width="13.31" height="18.18" fill="#f4ed23"/><rect x="338.82" y="399.43" width="13.31" height="18.18" fill="#f4ed23"/><rect x="351.14" y="399.43" width="13.31" height="18.18" fill="#f4ed23"/><rect x="363.45" y="399.43" width="13.31" height="18.18" fill="#f4ed23"/><rect x="375.76" y="399.43" width="13.31" height="18.18" fill="#f4ed23"/><rect x="388.07" y="399.43" width="13.31" height="18.18" fill="#f4ed23"/><rect x="400.39" y="399.43" width="12.31" height="18.18" fill="#f4ed23"/><rect x="314.20" y="416.62" width="13.31" height="17.18" fill="#f4ed23"/><rect x="326.51" y="416.62" width="13.31" height="17.18" fill="#f4ed23"/><rect x="338.82" y="416.62" width="13.31" height="17.18" fill="#f4ed23"/><rect x="351.14" y="416.62" width="13.31" height="17.18" fill="#f4ed23"/><rect x="363.45" y="416.62" width="13.31" height="17.18" fill="#f4ed23"/><rect x="375.76" y="416.62" width="13.31" height="17.18" fill="#f4ed23"/><rect x="388.07" y="416.62" width="13.31" height="17.18" fill="#f4ed23"/><rect x="400.39" y="416.62" width="12.31" height="17.18" fill="#f4ed23"/><rect x="314.20" y="444.10" width="13.31" height="18.18" fill="#f89a1c"/><rect x="326.51" y="444.10" width="13.31" height="18.18" fill="#f7941d"/><rect x="338.82" y="444.10" width="13.31" height="18.18" fill="#f68e1e"/><rect x="351.14" y="444.10" width="13.31" height="18.18" fill="#f68e1e"/><rect x="363.45" y="444.10" width="13.31" height="18.18" fill="#f48020"/><rect x="375.76" y="444.10" width="13.31" height="18.18" fill="#f37821"/><rect x="388.07" y="444.10" width="13.31" height="18.18" fill="#f16a23"/><rect x="400.39" y="444.10" width="12.31" height="18.18" fill="#f05a24"/><rect x="314.20" y="461.28" width="13.31" height="18.18" fill="#f48020"/><rect x="326.51" y="461.28" width="13.31" height="18.18" fill="#f37821"/><rect x="338.82" y="461.28" width="13.31" height="18.18" fill="#f37821"/><rect x="351.14" y="461.28" width="13.31" height="18.18" fill="#f37421"/><rect x="363.45" y="461.28" width="13.31" height="18.18" fill="#f16a23"/><rect x="375.76" y="461.28" width="13.31" height="18.18" fill="#f16a23"/><rect x="388.07" y="461.28" width="13.31" height="18.18" fill="#f16a23"/><rect x="400.39" y="461.28" width="12.31" height="18.18" fill="#f06324"/><rect x="314.20" y="478.47" width="13.31" height="18.18" fill="#fce10e"/><rect x="326.51" y="478.47" width="13.31" height="18.18" fill="#fde20d"/><rect x="338.82" y="478.47" width="13.31" height="18.18" fill="#fde20d"/><rect x="351.14" y="478.47" width="13.31" height="18.18" fill="#fde10d"/><rect x="363.45" y="478.47" width="13.31" height="18.18" fill="#fdd90e"/><rect x="375.76" y="478.47" width="13.31" height="18.18" fill="#fdd90e"/><rect x="388.07" y="478.47" width="13.31" height="18.18" fill="#fdd50f"/><rect x="400.39" y="478.47" width="12.31" height="18.18" fill="#fdd50f"/><rect x="314.20" y="495.65" width="13.31" height="18.18" fill="#f4ed23"/><rect x="326.51" y="495.65" width="13.31" height="18.18" fill="#f4ed23"/><rect x="338.82" y="495.65" width="13.31" height="18.18" fill="#f4ed23"/><rect x="351.14" y="495.65" width="13.31" height="18.18" fill="#f4ed23"/><rect x="363.45" y="495.65" width="13.31" height="18.18" fill="#f4ed23"/><rect x="375.76" y="495.65" width="13.31" height="18.18" fill="#f4ed23"/><rect x="388.07" y="495.65" width="13.31" height="18.18" fill="#f4ed23"/><rect x="400.39" y="495.65" width="12.31" height="18.18" fill="#f4ed23"/><rect x="314.20" y="512.83" width="13.31" height="18.18" fill="#f4ed23"/><rect x="326.51" y="512.83" width="13.31" height="18.18" fill="#f4ed23"/><rect x="338.82" y="512.83" width="13.31" height="18.18" fill="#f4ed23"/><rect x="351.14" y="512.83" width="13.31" height="18.18" fill="#f4ed23"/><rect x="363.45" y="512.83" width="13.31" height="18.18" fill="#f4ed23"/><rect x="375.76" y="512.83" width="13.31" height="18.18" fill="#f4ed23"/><rect x="388.07" y="512.83" width="13.31" height="18.18" fill="#f4ed23"/><rect x="400.39" y="512.83" width="12.31" height="18.18" fill="#f4ed23"/><rect x="314.20" y="530.02" width="13.31" height="17.18" fill="#f4ed23"/><rect x="326.51" y="530.02" width="13.31" height="17.18" fill="#f4ed23"/><rect x="338.82" y="530.02" width="13.31" height="17.18" fill="#f4ed23"/><rect x="351.14" y="530.02" width="13.31" height="17.18" fill="#f4ed23"/><rect x="363.45" y="530.02" width="13.31" height="17.18" fill="#f4ed23"/><rect x="375.76" y="530.02" width="13.31" height="17.18" fill="#f4ed23"/><rect x="388.07" y="530.02" width="13.31" height="17.18" fill="#f4ed23"/><rect x="400.39" y="530.02" width="12.31" height="17.18" fill="#f4ed23"/><rect x="297.0" y="25.1" width="115.30" height="20.80" fill="url(#cb)"/><line x1="297.20" y1="22.6" x2="297.20" y2="25.1" stroke="#3a3a3a" stroke-width="0.95"/><line x1="313.61" y1="22.6" x2="313.61" y2="25.1" stroke="#3a3a3a" stroke-width="0.95"/><line x1="330.03" y1="22.6" x2="330.03" y2="25.1" stroke="#3a3a3a" stroke-width="0.95"/><line x1="346.44" y1="22.6" x2="346.44" y2="25.1" stroke="#3a3a3a" stroke-width="0.95"/><line x1="362.86" y1="22.6" x2="362.86" y2="25.1" stroke="#3a3a3a" stroke-width="0.95"/><line x1="379.27" y1="22.6" x2="379.27" y2="25.1" stroke="#3a3a3a" stroke-width="0.95"/><line x1="395.69" y1="22.6" x2="395.69" y2="25.1" stroke="#3a3a3a" stroke-width="0.95"/><line x1="412.10" y1="22.6" x2="412.10" y2="25.1" stroke="#3a3a3a" stroke-width="0.95"/><line x1="84" y1="107.5" x2="86.6" y2="107.5" stroke="#3a3a3a" stroke-width="0.95"/><line x1="84" y1="193" x2="86.6" y2="193" stroke="#3a3a3a" stroke-width="0.95"/><line x1="92.6" y1="201.8" x2="92.6" y2="204.7" stroke="#3a3a3a" stroke-width="0.95"/><line x1="177.7" y1="201.8" x2="177.7" y2="204.7" stroke="#3a3a3a" stroke-width="0.95"/></svg>
<div class="t" style="left:4.7px;top:69.0px;font-size:8.6px;letter-spacing:0px;">No admixture</div><div class="t" style="left:4.7px;top:150.8px;font-size:8.6px;letter-spacing:-0.1px;">1% admixture</div><div class="t" style="left:4.7px;top:259.6px;font-size:8.6px;letter-spacing:-0.1px;">5% admixture</div><div class="t" style="left:4.7px;top:375.3px;font-size:8.6px;letter-spacing:-0.12px;">25% admixture</div><div class="t" style="left:4.7px;top:489.3px;font-size:8.6px;letter-spacing:-0.12px;">50% admixture</div><div class="t" style="left:89.4px;top:50.3px;font-size:8.3px;letter-spacing:-0.03px;">Constant Population Size</div><div class="t" style="left:213.5px;top:50.3px;font-size:8.3px;letter-spacing:0px;">10-Fold Bottleneck</div><div class="t" style="left:327.1px;top:50.3px;font-size:8.3px;letter-spacing:-0.03px;">100-Fold Bottleneck</div><div class="t" style="left:69.3px;top:105.3px;font-size:6.8px;letter-spacing:-0.25px;">0.01</div><div class="t" style="left:68.6px;top:191.0px;font-size:6.8px;letter-spacing:-0.15px;">0.06</div><div class="t" style="left:87.9px;top:206.1px;font-size:6.8px;letter-spacing:0px;">0.6</div><div class="t" style="left:172.4px;top:206.1px;font-size:6.8px;letter-spacing:0px;">2.0</div><div class="t" style="left:110.6px;top:204.4px;font-size:7.3px;letter-spacing:-0.28px;">Divergence Time</div><div class="t" style="left:292.7px;top:16.1px;font-size:6.4px;letter-spacing:-0.1px;-webkit-text-stroke:0.12px #231f20;">0.0</div><div class="t" style="left:309.1142857142857px;top:16.1px;font-size:6.4px;letter-spacing:-0.1px;-webkit-text-stroke:0.12px #231f20;">0.1</div><div class="t" style="left:325.5285714285714px;top:16.1px;font-size:6.4px;letter-spacing:-0.1px;-webkit-text-stroke:0.12px #231f20;">0.2</div><div class="t" style="left:341.9428571428571px;top:16.1px;font-size:6.4px;letter-spacing:-0.1px;-webkit-text-stroke:0.12px #231f20;">0.3</div><div class="t" style="left:358.35714285714283px;top:16.1px;font-size:6.4px;letter-spacing:-0.1px;-webkit-text-stroke:0.12px #231f20;">0.4</div><div class="t" style="left:374.77142857142854px;top:16.1px;font-size:6.4px;letter-spacing:-0.1px;-webkit-text-stroke:0.12px #231f20;">0.5</div><div class="t" style="left:391.1857142857143px;top:16.1px;font-size:6.4px;letter-spacing:-0.1px;-webkit-text-stroke:0.12px #231f20;">0.6</div><div class="t" style="left:407.6px;top:16.1px;font-size:6.4px;letter-spacing:-0.1px;-webkit-text-stroke:0.12px #231f20;">0.7</div>
<div class="rot" style="left:77.3px;top:174.8px;font-size:7.4px;letter-spacing:-0.2px;">Admixture Time</div>
<div class="t" style="left:349.7px;top:3.6px;font-size:8.0px;font-style:italic;">P<span style="font-size:4.2px;font-style:normal;position:relative;top:2.9px;margin-left:-1.1px;color:#444;-webkit-text-stroke:0;">BB</span></div>
</body></html>
